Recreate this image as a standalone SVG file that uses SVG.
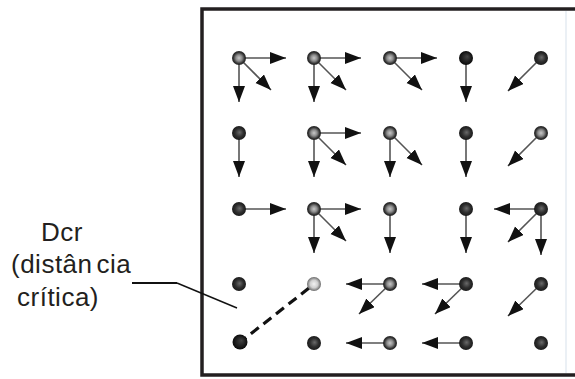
<svg xmlns="http://www.w3.org/2000/svg" width="575" height="379" viewBox="0 0 575 379">
<style>
.frame{stroke:#231f20;stroke-width:3.5;fill:none}
.vec{stroke:#555;stroke-width:1.6;fill:none;marker-end:url(#ah)}
.lbl{font-family:"Liberation Sans",Arial,sans-serif;font-size:26px;fill:#231f20;letter-spacing:0.5px}
.lead{stroke:#111;fill:none}
.dark{fill:url(#gDark)}
.ring{fill:url(#gRing)}
.light{fill:url(#gLight)}
.black{fill:url(#gBlack)}
</style>
<defs>
<marker id="ah" markerUnits="userSpaceOnUse" markerWidth="17" markerHeight="13" refX="16" refY="6" orient="auto">
<path d="M0,0 L16,6 L0,12 z" fill="#111"/>
</marker>
<radialGradient id="gDark" cx="0.5" cy="0.5" r="0.5" fx="0.55" fy="0.45">
<stop offset="0" stop-color="#6a6a6a"/><stop offset="0.6" stop-color="#2e2e2e"/><stop offset="1" stop-color="#1a1a1a"/>
</radialGradient>
<radialGradient id="gRing" cx="0.5" cy="0.5" r="0.5" fx="0.5" fy="0.5">
<stop offset="0" stop-color="#c8c8c8"/><stop offset="0.45" stop-color="#8a8a8a"/><stop offset="0.8" stop-color="#333"/><stop offset="1" stop-color="#222"/>
</radialGradient>
<radialGradient id="gLight" cx="0.5" cy="0.5" r="0.5">
<stop offset="0" stop-color="#f2f2f2"/><stop offset="0.55" stop-color="#cfcfcf"/><stop offset="1" stop-color="#6a6a6a"/>
</radialGradient>
<radialGradient id="gBlack" cx="0.5" cy="0.5" r="0.5" fx="0.6" fy="0.4">
<stop offset="0" stop-color="#444"/><stop offset="1" stop-color="#0a0a0a"/>
</radialGradient>
</defs>
<rect width="575" height="379" fill="#fff"/>
<g id="frame">
<line x1="566" y1="11" x2="566" y2="373" stroke="#e4ebf2" stroke-width="1.5"/>
<path class="frame" d="M575,9 H202 V375 H575"/>
</g>
<g id="label">
<text class="lbl" x="41" y="241">Dcr</text>
<text class="lbl" x="11" y="273">(distân<tspan dx="4">cia</tspan></text>
<text class="lbl" x="17" y="306">crítica)</text>
</g>
<g id="connectors">
<path class="lead" stroke-width="2" d="M132,283 H177"/>
<path class="lead" stroke-width="1.4" d="M177,283 L237,308"/>
<line x1="309" y1="288" x2="243" y2="340" stroke="#111" stroke-width="3.2" stroke-dasharray="10,6"/>
<line class="vec" x1="239" y1="58" x2="286" y2="58"/>
<line class="vec" x1="239" y1="58" x2="239" y2="102"/>
<line class="vec" x1="239" y1="58" x2="271" y2="90"/>
<line class="vec" x1="314" y1="58" x2="361" y2="58"/>
<line class="vec" x1="314" y1="58" x2="314" y2="102"/>
<line class="vec" x1="314" y1="58" x2="346" y2="90"/>
<line class="vec" x1="390" y1="58" x2="437" y2="58"/>
<line class="vec" x1="390" y1="58" x2="422" y2="90"/>
<line class="vec" x1="466" y1="58" x2="466" y2="102"/>
<line class="vec" x1="541" y1="58" x2="508" y2="91"/>
<line class="vec" x1="239" y1="133" x2="239" y2="177"/>
<line class="vec" x1="314" y1="133" x2="361" y2="133"/>
<line class="vec" x1="314" y1="133" x2="314" y2="177"/>
<line class="vec" x1="314" y1="133" x2="346" y2="165"/>
<line class="vec" x1="390" y1="133" x2="390" y2="177"/>
<line class="vec" x1="390" y1="133" x2="422" y2="165"/>
<line class="vec" x1="466" y1="133" x2="466" y2="177"/>
<line class="vec" x1="541" y1="133" x2="508" y2="166"/>
<line class="vec" x1="239" y1="209" x2="286" y2="209"/>
<line class="vec" x1="314" y1="209" x2="361" y2="209"/>
<line class="vec" x1="314" y1="209" x2="314" y2="253"/>
<line class="vec" x1="314" y1="209" x2="346" y2="241"/>
<line class="vec" x1="390" y1="209" x2="390" y2="253"/>
<line class="vec" x1="466" y1="209" x2="466" y2="253"/>
<line class="vec" x1="541" y1="209" x2="494" y2="209"/>
<line class="vec" x1="541" y1="209" x2="541" y2="255"/>
<line class="vec" x1="541" y1="209" x2="508" y2="242"/>
<line class="vec" x1="390" y1="284" x2="346" y2="284"/>
<line class="vec" x1="390" y1="284" x2="359" y2="314"/>
<line class="vec" x1="466" y1="284" x2="422" y2="284"/>
<line class="vec" x1="466" y1="284" x2="435" y2="314"/>
<line class="vec" x1="541" y1="284" x2="508" y2="316"/>
<line class="vec" x1="390" y1="343" x2="346" y2="343"/>
<line class="vec" x1="466" y1="343" x2="422" y2="343"/>
</g>
<g id="n11"><circle class="ring" cx="239" cy="58" r="7"/></g>
<g id="n12"><circle class="ring" cx="314" cy="58" r="7"/></g>
<g id="n13"><circle class="ring" cx="390" cy="58" r="7"/></g>
<g id="n14"><circle class="black" cx="466" cy="58" r="7"/></g>
<g id="n15"><circle class="dark" cx="541" cy="58" r="7"/></g>
<g id="n21"><circle class="dark" cx="239" cy="133" r="7"/></g>
<g id="n22"><circle class="ring" cx="314" cy="133" r="7"/></g>
<g id="n23"><circle class="ring" cx="390" cy="133" r="7"/></g>
<g id="n24"><circle class="dark" cx="466" cy="133" r="7"/></g>
<g id="n25"><circle class="ring" cx="541" cy="133" r="7"/></g>
<g id="n31"><circle class="dark" cx="239" cy="209" r="7"/></g>
<g id="n32"><circle class="ring" cx="314" cy="209" r="7"/></g>
<g id="n33"><circle class="ring" cx="390" cy="209" r="7"/></g>
<g id="n34"><circle class="dark" cx="466" cy="209" r="7"/></g>
<g id="n35"><circle class="dark" cx="541" cy="209" r="7"/></g>
<g id="n41"><circle class="dark" cx="239" cy="284" r="7"/></g>
<g id="n42"><circle class="light" cx="314" cy="284" r="7"/></g>
<g id="n43"><circle class="ring" cx="390" cy="284" r="7"/></g>
<g id="n44"><circle class="dark" cx="466" cy="284" r="7"/></g>
<g id="n45"><circle class="dark" cx="541" cy="284" r="7"/></g>
<g id="n51"><circle class="black" cx="240" cy="342" r="7.5"/></g>
<g id="n52"><circle class="dark" cx="314" cy="343" r="7"/></g>
<g id="n53"><circle class="ring" cx="390" cy="343" r="7"/></g>
<g id="n54"><circle class="dark" cx="466" cy="343" r="7"/></g>
<g id="n55"><circle class="dark" cx="541" cy="343" r="7"/></g>
</svg>
